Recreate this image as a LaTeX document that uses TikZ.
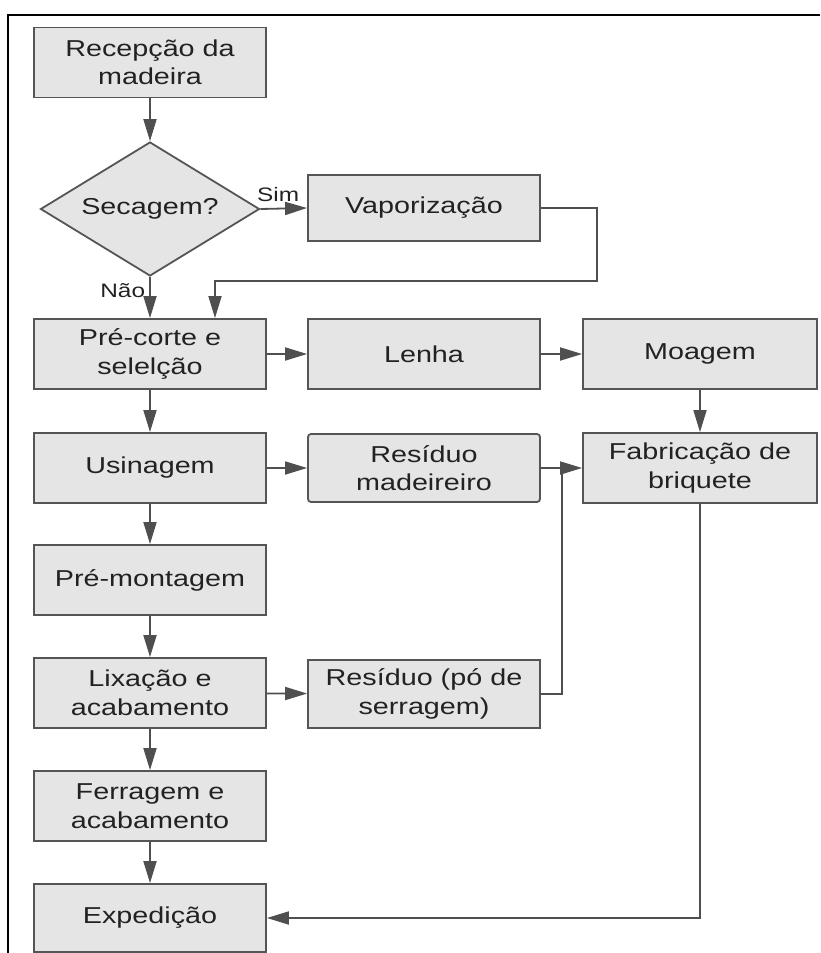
\documentclass[tikz,border=0pt]{standalone}
\usepackage{fontspec}
\setmainfont{Liberation Sans}[FakeStretch=1.25]
\usetikzlibrary{arrows.meta,shapes.geometric}
\definecolor{boxfill}{HTML}{E5E5E5}
\definecolor{boxline}{HTML}{555555}
\definecolor{arrowc}{HTML}{4F4F4F}
\definecolor{txt}{HTML}{222222}
\begin{document}
\begin{tikzpicture}[x=1pt,y=-1pt,
  procbox/.style={draw=boxline, fill=boxfill, line width=1.8pt, minimum width=232pt, minimum height=70pt, inner sep=0pt, align=center, text=txt, font=\fontsize{23}{28.5}\selectfont},
  decbox/.style={diamond, aspect=1.634, draw=boxline, fill=boxfill, line width=1.8pt, minimum width=219pt, minimum height=134pt, inner sep=0pt, align=center, text=txt, font=\fontsize{23}{28.5}\selectfont},
  link/.style={draw=arrowc, line width=1.8pt},
  conn/.style={link, -{Triangle[length=22pt,width=13pt]}},
  lbl/.style={text=txt, font=\fontsize{19.5}{21}\selectfont, inner sep=3pt}]
\useasboundingbox (0,0) rectangle (820,953);
% frame
\draw[line width=2pt, black] (8,953) -- (8,15) -- (820,15);
% nodes
\node[procbox] (rec) at (150,62.5) {Recepção da\\madeira};
\node[decbox] (dia) at (150,209) {Secagem?};
\node[procbox, minimum height=66pt] (vap) at (424,208) {Vaporização};
\node[procbox] (pre) at (150,354) {Pré-corte e\\selelção};
\node[procbox] (len) at (424,354) {Lenha};
\node[procbox, minimum width=234pt] (moa) at (700,354) {Moagem};
\node[procbox] (usi) at (150,468) {Usinagem};
\node[procbox, minimum height=68pt, rounded corners=3pt] (res) at (424,468) {Resíduo\\madeireiro};
\node[procbox, minimum width=234pt] (fab) at (700,468) {Fabricação de\\briquete};
\node[procbox] (prm) at (150,580) {Pré-montagem};
\node[procbox] (lix) at (150,693) {Lixação e\\acabamento};
\node[procbox, minimum height=68pt] (rpo) at (424,694) {Resíduo (pó de\\serragem)};
\node[procbox] (fer) at (150,806) {Ferragem e\\acabamento};
\node[procbox, minimum height=68pt] (exp) at (150,918) {Expedição};
% helper coordinates
\coordinate (vr) at (597,281);
\coordinate (vj) at (215,281);
\coordinate (mj) at (562,468);
% connectors
\draw[conn] (rec) -- (dia);
\draw[conn] (dia.east) -- node[lbl, above, pos=0.38, yshift=3pt]{Sim} (vap.west);
\draw[conn] (dia.south) -- node[lbl, left, pos=0.33, xshift=-1pt]{Não} (pre.north);
\draw[conn] (vap.east) -| (vr) -- (vj) -- (vj |- pre.north);
\draw[conn] (pre) -- (len);
\draw[conn] (len) -- (moa);
\draw[conn] (moa) -- (fab);
\draw[conn] (pre) -- (usi);
\draw[conn] (usi) -- (res);
\draw[link] (rpo.east) -| (mj);
\draw[conn] (res) -- (fab);
\draw[conn] (usi) -- (prm);
\draw[conn] (prm) -- (lix);
\draw[conn] (lix) -- (rpo);
\draw[conn] (lix) -- (fer);
\draw[conn] (fer) -- (exp);
\draw[conn] (fab.south) |- (exp.east);
\end{tikzpicture}
\end{document}
